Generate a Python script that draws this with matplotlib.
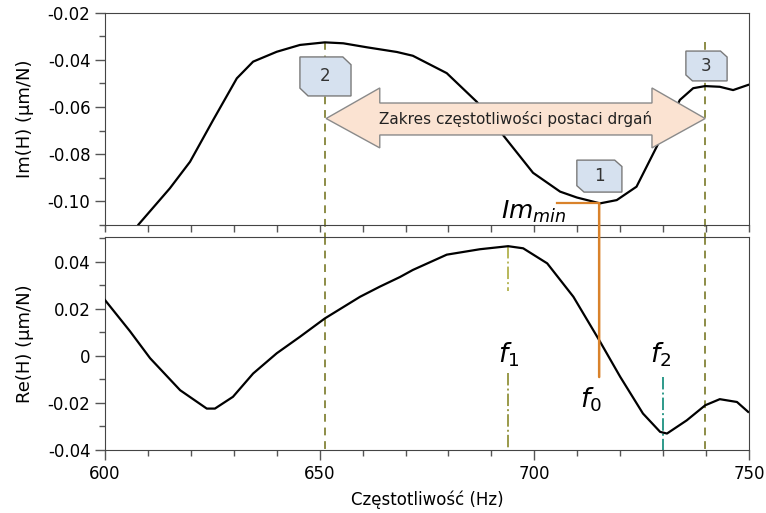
import matplotlib
matplotlib.use("Agg")
import matplotlib.pyplot as plt
from matplotlib.patches import Polygon, ConnectionPatch
from matplotlib.ticker import MultipleLocator

plt.rcParams["font.family"] = ["DejaVu Sans"]
plt.rcParams["mathtext.fontset"] = "dejavusans"

# Im(H)
freq_im = [607.8, 615.1, 619.8, 625.2, 630.7, 634.5, 640.0, 645.4, 651.2, 655.5,
           661.0, 668.0, 671.7, 679.6, 686.6, 693.6, 699.7, 706.0, 709.9, 715.3,
           719.2, 723.8, 728.5, 733.9, 737.0, 739.8, 743.2, 746.3, 749.8]
im_h = [-0.110, -0.0946, -0.0833, -0.0655, -0.0478, -0.0407, -0.0365, -0.0336, -0.0325, -0.0329,
        -0.0346, -0.0366, -0.0382, -0.0456, -0.0578, -0.0740, -0.0880, -0.0960, -0.0985, -0.1010,
        -0.0996, -0.0939, -0.0769, -0.0570, -0.0520, -0.0511, -0.0514, -0.0528, -0.0506]

# Re(H)
freq_re = [600.0, 605.8, 610.5, 617.5, 623.7, 625.6, 629.8, 634.5, 640.0, 645.4,
           651.2, 659.4, 664.0, 668.7, 671.7, 679.6, 687.3, 693.9, 697.4, 703.0,
           709.1, 715.1, 720.0, 725.3, 729.3, 730.9, 735.5, 739.8, 743.2, 747.2, 749.8]
re_h = [0.0237, 0.0105, -0.0010, -0.0146, -0.0224, -0.0224, -0.0174, -0.0075, 0.0011, 0.0081,
        0.0159, 0.0251, 0.0294, 0.0335, 0.0365, 0.0430, 0.0453, 0.0466, 0.0457, 0.0393,
        0.0251, 0.0067, -0.0089, -0.0245, -0.0323, -0.0330, -0.0274, -0.0210, -0.0184, -0.0196, -0.0238]

f_mode2, f_mode3 = 651.3, 739.8
f1, f2, f0 = 693.9, 730.0, 715.1
im_min = -0.101

olive = "#8c8c46"
orange = "#d9822b"

fig = plt.figure(figsize=(7.66, 5.13), dpi=100)
ax_im = fig.add_axes([0.1371, 0.5614, 0.8407, 0.4133])
ax_re = fig.add_axes([0.1371, 0.1228, 0.8407, 0.4152])

for ax in (ax_im, ax_re):
    ax.set_xlim(600, 750)
    ax.xaxis.set_major_locator(MultipleLocator(50))
    ax.xaxis.set_minor_locator(MultipleLocator(10))
    ax.yaxis.set_major_locator(MultipleLocator(0.02))
    ax.yaxis.set_minor_locator(MultipleLocator(0.01))
    ax.tick_params(which="both", direction="out", color="#555555", labelsize=12, width=1)
    ax.tick_params(which="major", length=7)
    ax.tick_params(which="minor", length=4)
    for sp in ax.spines.values():
        sp.set_color("#444444")

ax_im.set_ylim(-0.1102, -0.02)
ax_im.tick_params(axis="x", which="both", labelbottom=False, length=5)
ax_im.yaxis.set_major_formatter(plt.FormatStrFormatter("%.2f"))
ax_re.set_ylim(-0.04, 0.0505)
ax_re.yaxis.set_major_formatter(
    plt.FuncFormatter(lambda v, p: "0" if abs(v) < 1e-9 else f"{v:.2f}"))

ax_im.plot(freq_im, im_h, color="black", lw=1.6, zorder=3)
ax_re.plot(freq_re, re_h, color="black", lw=1.6, zorder=3)

ax_im.set_ylabel("Im(H) (μm/N)", fontsize=13)
ax_re.set_ylabel("Re(H) (μm/N)", fontsize=13)
ax_im.yaxis.set_label_coords(-0.11, 0.5)
ax_re.yaxis.set_label_coords(-0.11, 0.5)
ax_re.set_xlabel("Częstotliwość (Hz)", fontsize=12, labelpad=6)

# mode-range dashed lines: top panel part runs on through the gap
for fx in (f_mode2, f_mode3):
    ax_im.plot([fx, fx], [-0.0325, -0.1160], color=olive, lw=1.4,
               ls=(0, (4, 3)), zorder=2, clip_on=False)
    ax_re.plot([fx, fx], [0.0505, -0.0395], color=olive, lw=1.4,
               ls=(0, (4, 3)), zorder=2)

# f1 / f2 dash-dot markers
ax_re.plot([f1, f1], [0.0466, 0.0275], color="#b8b85a", lw=1.4, ls="-.", zorder=2)
ax_re.plot([f1, f1], [-0.0074, -0.0395], color="#9a9a4a", lw=1.4, ls="-.", zorder=2)
ax_re.plot([f2, f2], [-0.009, -0.04], color="#2e9a8a", lw=1.4, ls="-.", zorder=2)

# Im_min marker and f0 line
ax_im.plot([705.2, f0], [im_min, im_min], color=orange, lw=1.6, zorder=4)
con = ConnectionPatch(xyA=(f0, im_min), coordsA=ax_im.transData,
                      xyB=(f0, -0.009), coordsB=ax_re.transData,
                      color=orange, lw=1.8, zorder=4)
fig.add_artist(con)

ax_im.text(707.5, -0.1045, "$Im_{min}$", fontsize=18, ha="right", va="center", zorder=5)
ax_re.text(f1, 0.0003, "$f_1$", fontsize=19, ha="center", va="center", zorder=5)
ax_re.text(729.5, 0.0003, "$f_2$", fontsize=19, ha="center", va="center", zorder=5)
ax_re.text(713.2, -0.0185, "$f_0$", fontsize=19, ha="center", va="center", zorder=5)

# double-headed range arrow
arrow = Polygon([(651.5, -0.0649), (664.0, -0.0519), (664.0, -0.0583), (727.4, -0.0583),
                 (727.4, -0.0519), (739.8, -0.0649), (727.4, -0.0774), (727.4, -0.0719),
                 (664.0, -0.0719), (664.0, -0.0774)],
                closed=True, facecolor="#fbe3d2", edgecolor="#8a8a8a", lw=1.0, zorder=6)
ax_im.add_patch(arrow)
ax_im.text(695.6, -0.0651, "Zakres częstotliwości postaci drgań", fontsize=11,
           ha="center", va="center", color="#222222", zorder=7)


def callout(ax, x0, x1, y0, y1, label):
    dx = (x1 - x0) * 0.16
    dy = (y0 - y1) * 0.2
    pts = [(x0, y0), (x1 - dx, y0), (x1, y0 - dy), (x1, y1),
           (x0 + dx, y1), (x0, y1 + dy)]
    ax.add_patch(Polygon(pts, closed=True, facecolor="#d6e1ef", edgecolor="#7a7a7a",
                         lw=1.0, zorder=6))
    ax.text((x0 + x1) / 2, (y0 + y1) / 2, label, fontsize=12, ha="center", va="center",
            color="#333333", zorder=7)


callout(ax_im, 645.4, 657.3, -0.0387, -0.0553, "2")
callout(ax_im, 709.9, 720.4, -0.0826, -0.0962, "1")
callout(ax_im, 735.3, 744.9, -0.0362, -0.0489, "3")

fig.savefig("out.png", dpi=100)
